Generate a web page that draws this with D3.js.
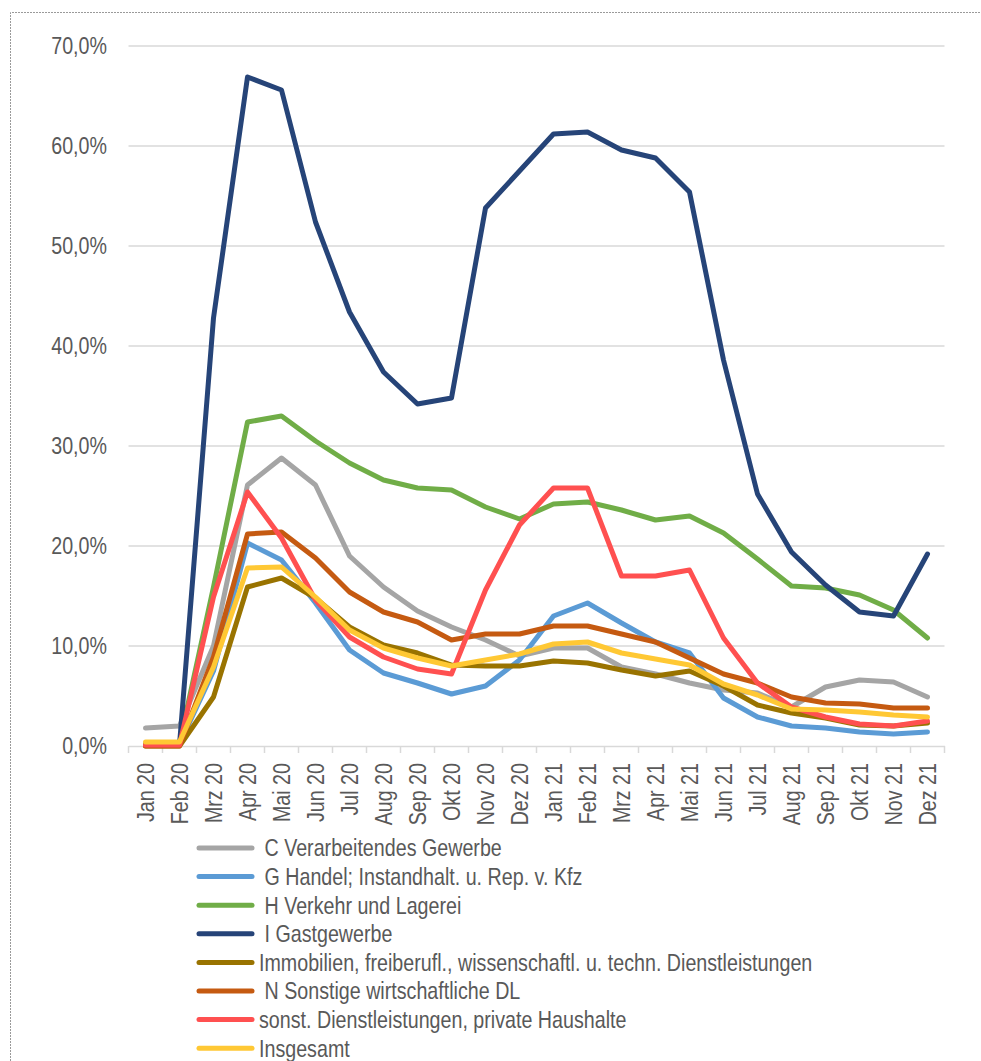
<!DOCTYPE html>
<html>
<head>
<meta charset="utf-8">
<script src="https://cdn.jsdelivr.net/npm/d3@7"></script>
<style>
  body { margin: 0; background: #fff; }
  svg text { font-family: "Liberation Sans", Arial, sans-serif; fill: #595959; }
  .legend text { white-space: pre; }
</style>
</head>
<body>
<div id="chart"></div>
<script>
// Monate
var months = ["Jan 20","Feb 20","Mrz 20","Apr 20","Mai 20","Jun 20","Jul 20","Aug 20","Sep 20","Okt 20","Nov 20","Dez 20",
              "Jan 21","Feb 21","Mrz 21","Apr 21","Mai 21","Jun 21","Jul 21","Aug 21","Sep 21","Okt 21","Nov 21","Dez 21"];

var seriesNames = [" C Verarbeitendes Gewerbe", " G Handel; Instandhalt. u. Rep. v. Kfz", " H Verkehr und Lagerei", " I Gastgewerbe",
                   "Immobilien, freiberufl., wissenschaftl. u. techn. Dienstleistungen", " N Sonstige wirtschaftliche DL",
                   "sonst. Dienstleistungen, private Haushalte", "Insgesamt"];
var seriesColors = ["#a5a5a5", "#5b9bd5", "#70ad47", "#264478", "#997300", "#c55a11", "#ff5050", "#ffc834"];

// Anteil in %
var verarbeitendes = [1.8, 2.0, 10.0, 26.1, 28.8, 26.1, 19.0, 15.9, 13.5, 11.9, 10.6, 9.0, 9.8, 9.8, 7.9, 7.2, 6.3, 5.6, 5.3, 3.9, 5.9, 6.6, 6.4, 4.9];
var handel = [0.2, 0.2, 7.5, 20.3, 18.6, 14.3, 9.6, 7.3, 6.3, 5.2, 6.0, 8.6, 13.0, 14.3, 12.3, 10.4, 9.3, 4.8, 2.9, 2.0, 1.8, 1.4, 1.2, 1.4];
var verkehr = [0.2, 0.3, 15.9, 32.4, 33.0, 30.5, 28.3, 26.6, 25.8, 25.6, 23.9, 22.7, 24.2, 24.4, 23.6, 22.6, 23.0, 21.3, 18.7, 16.0, 15.8, 15.1, 13.6, 10.8];
var gastgewerbe = [0.1, 0.1, 42.8, 66.9, 65.6, 52.4, 43.4, 37.4, 34.2, 34.8, 53.8, 57.5, 61.2, 61.4, 59.6, 58.8, 55.4, 38.6, 25.2, 19.4, 16.1, 13.4, 13.0, 19.2];
var immobilien = [0.0, 0.0, 4.9, 15.9, 16.8, 14.8, 11.9, 10.1, 9.3, 8.1, 8.0, 8.0, 8.5, 8.3, 7.6, 7.0, 7.5, 6.0, 4.1, 3.3, 2.8, 2.1, 2.0, 2.3];
var sonstigeDL = [0.0, 0.0, 8.9, 21.2, 21.4, 18.8, 15.4, 13.4, 12.4, 10.6, 11.2, 11.2, 12.0, 12.0, 11.2, 10.4, 8.8, 7.2, 6.3, 4.9, 4.3, 4.2, 3.8, 3.8];
var privateHH = [0.1, 0.1, 14.9, 25.4, 20.8, 14.6, 10.9, 8.9, 7.7, 7.2, 15.6, 22.1, 25.8, 25.8, 17.0, 17.0, 17.6, 10.8, 6.3, 3.9, 2.9, 2.2, 2.0, 2.5];
var insgesamt = [0.4, 0.4, 7.9, 17.8, 17.9, 14.9, 11.6, 9.8, 8.8, 8.0, 8.6, 9.2, 10.2, 10.4, 9.3, 8.7, 8.1, 6.2, 5.1, 3.7, 3.6, 3.4, 3.1, 2.9];

var yTicks = [0, 10, 20, 30, 40, 50, 60, 70];

var allValues = [verarbeitendes, handel, verkehr, gastgewerbe, immobilien, sonstigeDL, privateHH, insgesamt];

var width = 981, height = 1061;
var narrow = " scale(0.82,1)"; // schmale Schrift nachbilden
var svg = d3.select("#chart").append("svg")
  .attr("width", width)
  .attr("height", height);

// gepunkteter Rahmen
svg.append("path")
  .attr("d", "M10.5," + height + "V12.5H" + width)
  .attr("fill", "none")
  .attr("stroke", "#9a9a9a")
  .attr("stroke-width", 1)
  .attr("stroke-dasharray", "2,1");

var x = d3.scaleBand().domain(months).range([128.5, 944.5]).padding(0);
var y = d3.scaleLinear().domain([0, 70]).range([746, 46]);

var de = d3.formatLocale({ decimal: ",", thousands: ".", grouping: [3], currency: ["", "€"] });
var fmt = function(v) { return de.format(".1f")(v) + "%"; };

// Gitterlinien
svg.append("g").selectAll("line")
  .data(yTicks.filter(function(t) { return t > 0; }))
  .enter().append("line")
  .attr("x1", 128.5).attr("x2", 944.5)
  .attr("y1", function(d) { return y(d); })
  .attr("y2", function(d) { return y(d); })
  .attr("stroke", "#d9d9d9")
  .attr("stroke-width", 1.5);

// y-Achse Beschriftung
svg.append("g").selectAll("text")
  .data(yTicks)
  .enter().append("text")
  .attr("transform", function(d) { return "translate(107," + y(d) + ")" + narrow; })
  .attr("dy", "0.35em")
  .attr("text-anchor", "end")
  .attr("font-size", "24px")
  .text(fmt);

// x-Achse
var xAxis = svg.append("g")
  .attr("transform", "translate(0,746)")
  .call(d3.axisBottom(x).tickSize(0).tickFormat(""));
xAxis.select(".domain").attr("stroke", "#d9d9d9").attr("stroke-width", 1.5);
xAxis.selectAll(".tick").remove();

var bounds = months.map(function(m) { return x(m); }).concat([x(months[months.length - 1]) + x.bandwidth()]);
xAxis.selectAll(".tk")
  .data(bounds)
  .enter().append("line")
  .attr("class", "tk")
  .attr("x1", function(d) { return d; })
  .attr("x2", function(d) { return d; })
  .attr("y1", 0).attr("y2", 7)
  .attr("stroke", "#d9d9d9")
  .attr("stroke-width", 1.5);

svg.append("g").selectAll("text")
  .data(months)
  .enter().append("text")
  .attr("transform", function(d) {
    return "translate(" + (x(d) + x.bandwidth() / 2) + ",763) rotate(-90)" + narrow;
  })
  .attr("dy", "0.35em")
  .attr("text-anchor", "end")
  .attr("font-size", "24px")
  .text(function(d) { return d; });

// Linien
var line = d3.line()
  .x(function(d, i) { return x(months[i]) + x.bandwidth() / 2; })
  .y(function(d) { return y(d); });

svg.append("g").selectAll("path")
  .data(allValues)
  .enter().append("path")
  .attr("d", line)
  .attr("fill", "none")
  .attr("stroke", function(d, i) { return seriesColors[i]; })
  .attr("stroke-width", 5)
  .attr("stroke-linejoin", "round")
  .attr("stroke-linecap", "round");

// Legende
var legend = svg.append("g").attr("class", "legend");
var item = legend.selectAll("g")
  .data(seriesNames)
  .enter().append("g")
  .attr("transform", function(d, i) { return "translate(0," + (848 + i * 28.6) + ")"; });

item.append("line")
  .attr("x1", 199).attr("x2", 252)
  .attr("stroke", function(d, i) { return seriesColors[i]; })
  .attr("stroke-width", 5)
  .attr("stroke-linecap", "round");

item.append("text")
  .attr("transform", "translate(259,0)" + narrow)
  .attr("dy", "0.35em")
  .attr("font-size", "24px")
  .text(function(d) { return d; });
</script>
</body>
</html>
